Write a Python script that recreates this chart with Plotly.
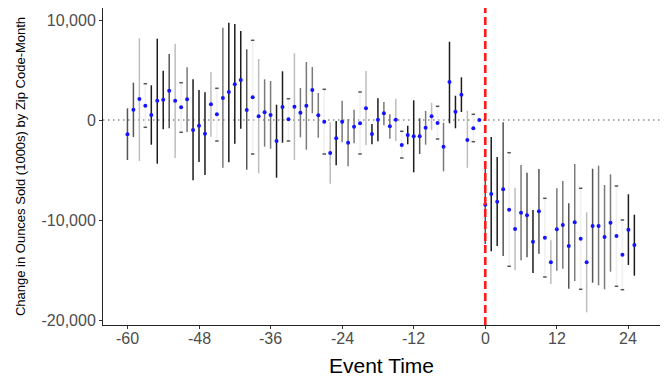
import numpy as np
import plotly.graph_objects as go

# ---- data ----
event_time = list(range(-60, 26))
estimate = [
    -1430, 1030, 2100, 1430, 500, 1930, 2030, 2930, 1930, 1270,
    2070, -1000, -570, -1370, 1570, 570, 2200, 2800, 3570, 4000,
    1000, 2270, 370, 770, 500, -2100, 1300, 70, 1330, 730,
    1430, 3000, 470, -170, -3300, -1830, -170, -2270, -670, -330,
    1170, -1400, 30, 670, -630, 30, -2500, -1500, -1630, -1630,
    -770, 370, -300, -2670, 3800, 830, 2530, -2000, -830, 0,
    -8470, -7400, -8170, -6930, -8970, -10900, -9270, -9530, -12170, -9130,
    -11770, -14230, -10930, -10500, -12600, -10230, -11870, -14230, -10600, -10600,
    -11700, -10270, -11600, -13470, -10970, -12500,
]
ci_low = [
    -4000, -1700, -4100, -730, -2470, -4370, -930, -830, -3800, -1230,
    -1200, -6030, -4200, -5500, -1670, -2100, -4770, -4230, -2370, -870,
    -4970, -3400, -5330, -2670, -2870, -5770, -2270, -2100, -4000, -1730,
    -2970, 670, -1770, -3400, -6370, -4530, -2230, -4630, -2330, -3400,
    -2530, -2430, -2130, -530, -1870, -2100, -3800, -2430, -5230, -3400,
    -2470, -1000, -1900, -5130, -330, -830, 800, -4780, -2170, 0,
    -12400, -13130, -12600, -13600, -14630, -15030, -14030, -13730, -15300, -13370,
    -15700, -16400, -15070, -14870, -16870, -16100, -16930, -19230, -16270, -16530,
    -16930, -15170, -16630, -16970, -14500, -15570,
]
ci_high = [
    1170, 3730, 8170, 3630, 3470, 8130, 4930, 6600, 7630, 3730,
    5270, 4070, 3000, 2770, 4800, 3170, 9230, 9730, 9600, 8900,
    7070, 7970, 6100, 4070, 3900, 1530, 4870, 2130, 6670, 3200,
    5800, 5300, 2700, 3070, -230, -100, 1930, 100, 1030, 2800,
    4900, -400, 2170, 1800, 570, 2130, -1130, -570, 1970, 170,
    900, 1730, 1370, -270, 7830, 2430, 4270, 920, 570, 0,
    -4600, -1700, -3700, -230, -3270, -6770, -4500, -5270, -9000, -4900,
    -7830, -12030, -6830, -6100, -8330, -4400, -6830, -9230, -4870, -4570,
    -6500, -5430, -6600, -10000, -7430, -9470,
]
# grey level of each interval (0 = darkest ... 4 = lightest)
ci_shade = [
    1, 1, 3, 4, 0, 0, 0, 1, 3, 4,
    2, 0, 0, 0, 3, 4, 2, 0, 0, 0,
    1, 4, 3, 2, 2, 0, 0, 4, 3, 2,
    2, 2, 2, 4, 3, 0, 2, 2, 2, 4,
    3, 0, 0, 2, 2, 3, 4, 0, 0, 1,
    2, 3, 4, 2, 0, 0, 0, 3, 4, -1,
    1, 0, 0, 1, 4, 3, 2, 1, 0, 1,
    4, 3, 2, 2, 1, 2, 4, 3, 1, 2,
    2, 2, 4, 4, 0, 0,
]
x_tick_vals = [-60, -48, -36, -24, -12, 0, 12, 24]
x_tick_text = ["-60", "-48", "-36", "-24", "-12", "0", "12", "24"]
y_tick_vals = [-20000, -10000, 0, 10000]
y_tick_text = ["-20,000", "-10,000", "0", "10,000"]
x_title = "Event Time"
y_title = "Change in Ounces Sold (1000s) by Zip Code-Month"

x = np.array(event_time)
y = np.array(estimate)
lo = np.array(ci_low)
hi = np.array(ci_high)
shade = np.array(ci_shade)

shade_colors = {0: "#1c1c1c", 1: "#555555", 2: "#7a7a7a", 3: "#bdbdbd", 4: "#f0f0f0"}

fig = go.Figure()

for lvl, col in shade_colors.items():
    m = shade == lvl
    fig.add_trace(go.Scatter(
        x=x[m], y=y[m], mode="markers",
        marker=dict(size=1, color="rgba(0,0,0,0)"),
        error_y=dict(type="data", symmetric=False,
                     array=(hi - y)[m], arrayminus=(y - lo)[m],
                     color=col, thickness=1.5, width=0),
        showlegend=False, hoverinfo="skip",
    ))

# small end marks on the lightest intervals
m4 = shade == 4
fig.add_trace(go.Scatter(
    x=np.concatenate([x[m4], x[m4]]), y=np.concatenate([lo[m4], hi[m4]]),
    mode="markers",
    marker=dict(symbol="line-ew-open", size=2.5, color="#555555",
                line=dict(width=1.5, color="#555555")),
    showlegend=False, hoverinfo="skip",
))

fig.add_trace(go.Scatter(
    x=x, y=y, mode="markers",
    marker=dict(size=4, color="#1414ff"),
    showlegend=False,
))

fig.add_shape(type="line", xref="paper", x0=0, x1=1, yref="y", y0=0, y1=0,
              line=dict(color="#555555", width=1.2, dash="1.5px,3.5px"), layer="below")
fig.add_shape(type="line", xref="x", x0=0, x1=0, yref="paper", y0=0, y1=1,
              line=dict(color="#ff1a1a", width=2.6, dash="8px,4px"))

font_family = "Liberation Sans, Arial, sans-serif"

# x tick labels and title as text annotations (placed closer to the axis)
for v, txt in zip(x_tick_vals, x_tick_text):
    fig.add_annotation(x=v, xref="x", y=0, yref="paper", text=txt, showarrow=False,
                       xanchor="center", yanchor="top", yshift=-3,
                       font=dict(size=16, color="#4d4d4d", family=font_family))
fig.add_annotation(x=0.5, xref="paper", y=0, yref="paper", text=x_title, showarrow=False,
                   xanchor="center", yanchor="middle", yshift=-40,
                   font=dict(size=21, color="#000000", family=font_family))

fig.update_layout(
    width=664, height=371,
    margin=dict(l=95, r=12, t=0, b=54),
    paper_bgcolor="white", plot_bgcolor="white",
    font=dict(family=font_family, color="#4d4d4d"),
    xaxis=dict(
        range=[-64.1, 29.3], tickvals=x_tick_vals, showticklabels=False,
        automargin=False,
        showgrid=False, zeroline=False, showline=True, linecolor="#222222", linewidth=1,
        ticks="outside", ticklen=3, tickcolor="#333333",
    ),
    yaxis=dict(
        range=[-20500, 11200], tickvals=y_tick_vals, ticktext=y_tick_text,
        automargin=False,
        showgrid=False, zeroline=False, showline=True, linecolor="#222222", linewidth=1,
        ticks="outside", ticklen=3, tickcolor="#333333",
        tickfont=dict(size=16, color="#4d4d4d"),
        title=dict(text=y_title, font=dict(size=13, color="#000000"), standoff=12),
    ),
)

fig.write_html("out.html")
